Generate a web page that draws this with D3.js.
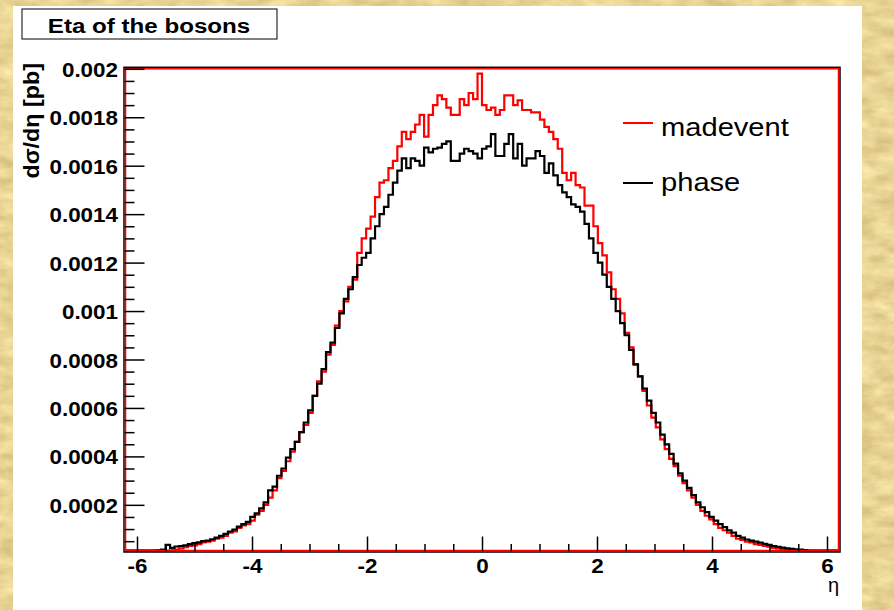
<!DOCTYPE html>
<html>
<head>
<meta charset="utf-8">
<script src="https://cdn.jsdelivr.net/npm/d3@7"></script>
<style>
  html, body { margin: 0; padding: 0; background: #e8d396; }
  svg { display: block; }
</style>
</head>
<body>
<svg id="chart" width="894" height="610"></svg>
<script>
// ---------------- data ----------------
const title = "Eta of the bosons";
const yTitle = "dσ/dη [pb]";
const xTitle = "η";
const seriesNames = ["madevent", "phase"];
const seriesColors = ["#ff0000", "#000000"];

const etaMin = -6.2, etaMax = 6.2, nBins = 160;
const yMin = 0.0000115, yMax = 0.002;

const xTicks = [-6, -4, -2, 0, 2, 4, 6];
const xTickLabels = ["-6", "-4", "-2", "0", "2", "4", "6"];
const yTicks = [0.0002, 0.0004, 0.0006, 0.0008, 0.001, 0.0012, 0.0014, 0.0016, 0.0018, 0.002];
const yTickLabels = ["0.0002", "0.0004", "0.0006", "0.0008", "0.001", "0.0012", "0.0014", "0.0016", "0.0018", "0.002"];

// bin contents in units of 1e-4 pb
const madevent = [
  0, 0, 0, 0, 0, 0.01, 0.03, 0.05, 0.07, 0.10,
  0.12, 0.15, 0.20, 0.25, 0.30, 0.33, 0.38, 0.45, 0.48, 0.52,
  0.60, 0.65, 0.72, 0.85, 0.90, 1.05, 1.15, 1.20, 1.35, 1.60,
  1.75, 2.00, 2.30, 2.60, 3.10, 3.40, 3.80, 4.20, 4.60, 5.00,
  5.30, 5.80, 6.50, 7.10, 7.50, 8.20, 8.60, 9.40, 10.0, 10.4,
  11.0, 11.3, 12.4, 13.0, 13.4, 13.9, 14.7, 15.3, 15.4, 15.9,
  16.2, 16.8, 17.4, 17.1, 17.4, 17.7, 18.1, 17.2, 18.1, 18.5,
  18.9, 18.75, 18.4, 18.1, 18.1, 18.75, 18.5, 19.0, 18.75, 19.8,
  18.5, 18.3, 18.4, 18.1, 18.3, 18.9, 18.9, 18.5, 18.7, 18.3,
  18.3, 18.2, 18.2, 17.9, 17.6, 17.4, 17.1, 16.7, 15.7, 15.4,
  15.7, 15.2, 15.1, 14.35, 14.35, 13.5, 12.8, 12.3, 11.6, 10.9,
  10.5, 9.9, 9.1, 8.5, 7.8, 7.3, 6.7, 6.1, 5.6, 5.2,
  4.7, 4.3, 3.9, 3.6, 3.2, 2.9, 2.6, 2.3, 2.0, 1.75,
  1.55, 1.40, 1.20, 1.05, 0.95, 0.85, 0.72, 0.60, 0.55, 0.48,
  0.45, 0.38, 0.35, 0.30, 0.27, 0.22, 0.20, 0.16, 0.13, 0.11,
  0.09, 0.07, 0.05, 0.04, 0.03, 0.02, 0.01, 0, 0, 0
];
const phase = [
  0, 0, 0, 0.01, 0.03, 0.05, 0.08, 0.12, 0.15, 0.35,
  0.22, 0.28, 0.30, 0.33, 0.38, 0.42, 0.45, 0.50, 0.52, 0.58,
  0.65, 0.72, 0.80, 0.90, 0.98, 1.10, 1.20, 1.30, 1.50, 1.65,
  1.85, 2.10, 2.60, 2.75, 3.20, 3.50, 3.95, 4.30, 4.60, 5.00,
  5.40, 5.90, 6.50, 7.00, 7.60, 8.30, 8.70, 9.30, 9.90, 10.5,
  10.9, 11.4, 11.9, 12.2, 12.4, 13.0, 13.5, 14.0, 14.3, 14.8,
  15.3, 15.8, 16.3, 15.9, 16.3, 16.2, 16.0, 16.75, 16.55, 16.7,
  16.75, 16.9, 17.0, 16.2, 16.2, 16.5, 16.7, 16.6, 16.5, 16.3,
  16.7, 16.8, 17.3, 16.4, 16.4, 16.9, 17.3, 16.3, 16.9, 16.0,
  16.3, 16.3, 16.6, 16.4, 15.7, 16.1, 15.6, 15.2, 14.9, 14.7,
  14.4, 14.3, 14.1, 13.6, 13.0, 12.4, 12.0, 11.5, 11.0, 10.5,
  10.0, 9.5, 9.0, 8.4, 7.8, 7.3, 6.8, 6.3, 5.8, 5.4,
  4.9, 4.5, 4.1, 3.7, 3.3, 3.0, 2.7, 2.4, 2.1, 1.9,
  1.7, 1.5, 1.35, 1.20, 1.08, 0.95, 0.85, 0.72, 0.65, 0.57,
  0.52, 0.48, 0.44, 0.39, 0.35, 0.30, 0.27, 0.23, 0.20, 0.18,
  0.16, 0.15, 0.13, 0.11, 0.08, 0.05, 0.03, 0.02, 0.01, 0
];
const unit = 1e-4;

// ---------------- drawing ----------------
const svg = d3.select("#chart");
const FONT = "'Liberation Sans', Arial, Helvetica, sans-serif";
const SX = 1.15; // horizontal glyph stretch of the original rendering

// paper texture background
const defs = svg.append("defs");
const f = defs.append("filter").attr("id", "paper").attr("x", 0).attr("y", 0)
  .attr("width", 1).attr("height", 1).attr("color-interpolation-filters", "sRGB");
f.append("feTurbulence").attr("type", "fractalNoise").attr("baseFrequency", "0.04 0.09")
  .attr("numOctaves", 4).attr("seed", 3).attr("result", "n");
f.append("feColorMatrix").attr("in", "n").attr("type", "matrix")
  .attr("values", "0.2 0 0 0 0.81  0.24 0 0 0 0.71  0.26 0 0 0 0.45  0 0 0 0 1");
svg.append("rect").attr("x", 0).attr("y", 0).attr("width", 894).attr("height", 610)
  .attr("fill", "#e8d396").attr("filter", "url(#paper)");

// white canvas
svg.append("rect").attr("x", 13).attr("y", 6).attr("width", 849).attr("height", 604).attr("fill", "#ffffff");

const x = d3.scaleLinear().domain([etaMin, etaMax]).range([125.5, 838.5]);
const y = d3.scaleLinear().domain([yMin, yMax]).range([550.5, 68.8]).clamp(true);

const edges = d3.range(nBins + 1).map(i => etaMin + i * (etaMax - etaMin) / nBins);

function histPath(vals) {
  const pts = [[edges[0], 0]];
  vals.forEach((v, i) => pts.push([edges[i], v * unit]));
  pts.push([edges[nBins], vals[nBins - 1] * unit]);
  pts.push([edges[nBins], 0]);
  return d3.line().x(d => x(d[0])).y(d => y(d[1])).curve(d3.curveStepAfter)(pts);
}

// histograms (madevent first, phase on top)
[madevent, phase].forEach((vals, i) => {
  svg.append("path").attr("d", histPath(vals)).attr("fill", "none")
    .attr("stroke", seriesColors[i]).attr("stroke-width", 2.2).attr("stroke-linejoin", "miter");
});

// frame: black outer, red inner
svg.append("rect")
  .attr("x", x(etaMin) - 1.5).attr("y", y(yMax) - 1.5)
  .attr("width", x(etaMax) - x(etaMin) + 3).attr("height", y(yMin) - y(yMax) + 3)
  .attr("fill", "none").attr("stroke", "#000").attr("stroke-width", 1.5);
svg.append("rect")
  .attr("x", x(etaMin)).attr("y", y(yMax))
  .attr("width", x(etaMax) - x(etaMin)).attr("height", y(yMin) - y(yMax))
  .attr("fill", "none").attr("stroke", "#ff0000").attr("stroke-width", 1.5);

// y axis ticks
const yMinor = d3.range(1, 40).map(i => i * 0.00005).filter(v => Math.round(v / 0.00005) % 4 !== 0);
const gyMinor = svg.append("g").attr("transform", `translate(${x(etaMin) - 1},0)`)
  .call(d3.axisLeft(y).tickValues(yMinor).tickSize(-10).tickFormat(""));
const gy = svg.append("g").attr("transform", `translate(${x(etaMin) - 1},0)`)
  .call(d3.axisLeft(y).tickValues(yTicks).tickSize(-20).tickPadding(0)
    .tickFormat((d, i) => yTickLabels[i]));
[gyMinor, gy].forEach(g => {
  g.select(".domain").remove();
  g.selectAll("line").attr("stroke", "#000").attr("stroke-width", 1.5);
});
gy.selectAll("text")
  .attr("font-family", FONT).attr("font-weight", "bold").attr("font-size", 19.5).attr("fill", "#000")
  .attr("x", -6.5 / SX).attr("dy", 7.5).attr("transform", `scale(${SX},1)`);

// x axis ticks
const xMinor = d3.range(-12, 13).map(i => i * 0.5).filter(v => v % 2 !== 0 && v > etaMin && v < etaMax);
const gxMinor = svg.append("g").attr("transform", `translate(0,${y(yMin) + 1})`)
  .call(d3.axisBottom(x).tickValues(xMinor).tickSize(-7.5).tickFormat(""));
const gx = svg.append("g").attr("transform", `translate(0,${y(yMin) + 1})`)
  .call(d3.axisBottom(x).tickValues(xTicks).tickSize(-15).tickPadding(0)
    .tickFormat((d, i) => xTickLabels[i]));
[gxMinor, gx].forEach(g => {
  g.select(".domain").remove();
  g.selectAll("line").attr("stroke", "#000").attr("stroke-width", 1.5);
});
gx.selectAll("text")
  .attr("font-family", FONT).attr("font-weight", "bold").attr("font-size", 19.5).attr("fill", "#000")
  .attr("y", 0).attr("dy", 22).attr("transform", `scale(${SX},1)`);

// axis titles
svg.append("text").attr("transform", "translate(839,592)")
  .attr("text-anchor", "end").attr("font-family", FONT).attr("font-size", 20).text(xTitle);
svg.append("text").attr("transform", "translate(39,63) rotate(-90) scale(1.06,1)")
  .attr("text-anchor", "end").attr("font-family", FONT).attr("font-weight", "bold")
  .attr("font-size", 22).text(yTitle);

// title box
svg.append("rect").attr("x", 22).attr("y", 9).attr("width", 255).attr("height", 30)
  .attr("fill", "#fff").attr("stroke", "#000").attr("stroke-width", 1);
svg.append("text").attr("transform", `translate(149,33) scale(${SX},1)`)
  .attr("text-anchor", "middle").attr("font-family", FONT).attr("font-weight", "bold")
  .attr("font-size", 21).text(title);

// legend
const legY = [123, 183];
const legText = [135.5, 191];
seriesNames.forEach((name, i) => {
  svg.append("line").attr("x1", 623).attr("x2", 653).attr("y1", legY[i]).attr("y2", legY[i])
    .attr("stroke", seriesColors[i]).attr("stroke-width", 2);
  svg.append("text").attr("transform", `translate(661,${legText[i]}) scale(1.12,1)`)
    .attr("font-family", FONT).attr("font-size", 26).attr("fill", "#000").text(name);
});
</script>
</body>
</html>
